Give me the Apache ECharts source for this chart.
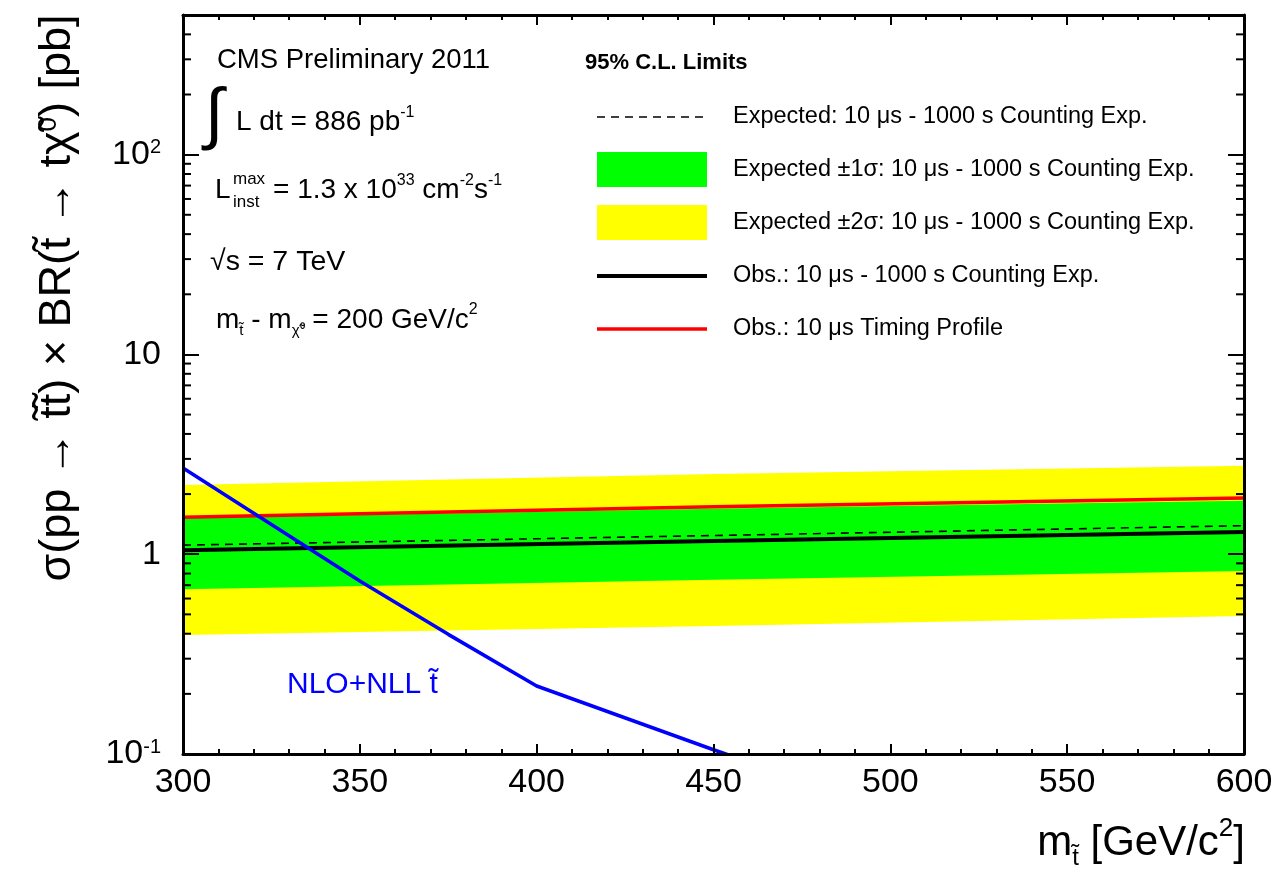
<!DOCTYPE html>
<html><head><meta charset="utf-8">
<script src="https://cdn.jsdelivr.net/npm/echarts@6/dist/echarts.min.js"></script>
<style>html,body{margin:0;padding:0;background:#fff}#c{width:1278px;height:872px}</style>
</head><body><div id="c"></div>
<script>
// ---- data ----
const massPoints   = [300, 450, 600];
const expected     = [1.11, 1.24, 1.39];
const exp1Lo       = [0.668, 0.745, 0.825];
const exp1Hi       = [1.515, 1.69, 1.85];
const exp2Lo       = [0.394, 0.437, 0.49];
const exp2Hi       = [2.22, 2.52, 2.77];
const obsCounting  = [1.047, 1.166, 1.29];
const obsTiming    = [1.53, 1.73, 1.91];
const nloMass      = [300, 325, 350, 375, 400, 450, 500];
const nloXsec      = [2.70, 1.41, 0.735, 0.397, 0.219, 0.105, 0.052];
const yTickValues  = [0.1, 1, 10, 100];
const yTickLabels  = ['10{sup|-1}', '1', '10', '10{sup|2}'];
const seriesNames  = [
  'Expected: 10 μs - 1000 s Counting Exp.',
  'Expected ±1σ: 10 μs - 1000 s Counting Exp.',
  'Expected ±2σ: 10 μs - 1000 s Counting Exp.',
  'Obs.: 10 μs - 1000 s Counting Exp.',
  'Obs.: 10 μs Timing Profile'
];

const FONT = '"Liberation Sans", Arial, Helvetica, sans-serif';
const X_MIN = 300, X_MAX = 600, Y_MIN = 0.1, Y_MAX = 500;

// log minor tick positions (2..9 per decade) — axis decoration
const yMinor = [];
for (let k = -1; k <= 2; k++) for (let d = 2; d <= 9; d++) {
  const v = d * Math.pow(10, k);
  if (v < Y_MAX) yMinor.push([X_MIN, v]);
}

function bandSeries(name, lo, hi, color, z) {
  return {
    name: name, type: 'custom', z: z, clip: true,
    itemStyle: { color: color },
    data: massPoints.map((m, i) => [m, lo[i], hi[i]]),
    encode: { x: 0, y: [1, 2] },
    renderItem: function (params, api) {
      if (params.dataIndex !== 0) return null;
      const pts = [];
      for (let i = 0; i < massPoints.length; i++) pts.push(api.coord([massPoints[i], hi[i]]));
      for (let i = massPoints.length - 1; i >= 0; i--) pts.push(api.coord([massPoints[i], lo[i]]));
      return { type: 'polygon', shape: { points: pts }, style: { fill: color, stroke: null } };
    }
  };
}

function yLabel(v) {
  const e = Math.round(Math.log10(v));
  if (Math.abs(Math.log10(v) - e) > 1e-6) return '';
  const idx = yTickValues.findIndex(t => Math.abs(Math.log10(t) - e) < 1e-6);
  return idx >= 0 ? yTickLabels[idx] : '';
}

const chart = echarts.init(document.getElementById('c'), null, { renderer: 'canvas' });
const axisLine = { show: true, lineStyle: { color: '#000', width: 3 } };

// legend drawn as graphic (rows)
const legendRows = [117, 169.5, 222.5, 276, 329];
const LX = 597, LW = 110, TX = 733;
const legendGraphics = [
  { type: 'text', x: 585, y: 63,
    style: { text: '95% C.L. Limits', fontFamily: FONT, fontSize: 22, fontWeight: 'bold', fill: '#000', verticalAlign: 'middle' } },
  { type: 'line', shape: { x1: LX, y1: legendRows[0], x2: LX + LW, y2: legendRows[0] },
    style: { stroke: '#000', lineWidth: 1.6, lineDash: [8, 6] } },
  { type: 'rect', shape: { x: LX, y: legendRows[1] - 17.5, width: LW, height: 35 }, style: { fill: '#00ff00' } },
  { type: 'rect', shape: { x: LX, y: legendRows[2] - 17.5, width: LW, height: 35 }, style: { fill: '#ffff00' } },
  { type: 'line', shape: { x1: LX, y1: legendRows[3], x2: LX + LW, y2: legendRows[3] },
    style: { stroke: '#000', lineWidth: 4 } },
  { type: 'line', shape: { x1: LX, y1: legendRows[4], x2: LX + LW, y2: legendRows[4] },
    style: { stroke: '#ff0000', lineWidth: 3.5 } }
].concat(seriesNames.map((n, i) => ({
  type: 'text', x: TX, y: legendRows[i],
  style: { text: n, fontFamily: FONT, fontSize: 23.5, fill: '#000', verticalAlign: 'middle' }
})));

const option = {
  backgroundColor: '#fff',
  animation: false,
  grid: { left: 183, right: 34, top: 15, bottom: 118, containLabel: false },
  xAxis: [{
    type: 'value', min: X_MIN, max: X_MAX, interval: 50, position: 'bottom', z: 10,
    axisLine: axisLine,
    axisTick: { show: true, inside: true, length: 10, lineStyle: { color: '#000', width: 2 } },
    minorTick: { show: true, splitNumber: 5, length: 5, lineStyle: { color: '#000', width: 2 } },
    splitLine: { show: false }, minorSplitLine: { show: false },
    axisLabel: { fontFamily: FONT, fontSize: 34, color: '#000', margin: 12, showMinLabel: true, showMaxLabel: true }
  }, {
    type: 'value', min: X_MIN, max: X_MAX, interval: 50, position: 'top', z: 10,
    axisLine: axisLine,
    axisTick: { show: true, inside: true, length: 10, lineStyle: { color: '#000', width: 2 } },
    minorTick: { show: true, splitNumber: 5, length: 5, lineStyle: { color: '#000', width: 2 } },
    splitLine: { show: false }, axisLabel: { show: false }
  }],
  yAxis: [{
    type: 'log', logBase: 10, min: Y_MIN, max: Y_MAX, position: 'left', z: 10,
    axisLine: axisLine,
    axisTick: { show: true, inside: true, length: 16, lineStyle: { color: '#000', width: 2 } },
    splitLine: { show: false },
    axisLabel: {
      fontFamily: FONT, fontSize: 34, color: '#000', margin: 22,
      formatter: yLabel,
      rich: { sup: { fontFamily: FONT, fontSize: 20, color: '#000', verticalAlign: 'top', lineHeight: 20 } }
    }
  }, {
    type: 'log', logBase: 10, min: Y_MIN, max: Y_MAX, position: 'right', z: 10,
    axisLine: axisLine,
    axisTick: { show: true, inside: true, length: 16, lineStyle: { color: '#000', width: 2 } },
    splitLine: { show: false }, axisLabel: { show: false }
  }],
  series: [
    bandSeries(seriesNames[2], exp2Lo, exp2Hi, '#ffff00', 1),
    bandSeries(seriesNames[1], exp1Lo, exp1Hi, '#00ff00', 2),
    {
      name: seriesNames[0], type: 'line', z: 3, symbol: 'none', clip: true,
      data: massPoints.map((m, i) => [m, expected[i]]),
      lineStyle: { color: '#000', width: 1.6, type: [8, 6] }, itemStyle: { color: '#000' }
    },
    {
      name: seriesNames[3], type: 'line', z: 4, symbol: 'none', clip: true,
      data: massPoints.map((m, i) => [m, obsCounting[i]]),
      lineStyle: { color: '#000', width: 4 }, itemStyle: { color: '#000' }
    },
    {
      name: seriesNames[4], type: 'line', z: 5, symbol: 'none', clip: true,
      data: massPoints.map((m, i) => [m, obsTiming[i]]),
      lineStyle: { color: '#ff0000', width: 3.5 }, itemStyle: { color: '#ff0000' }
    },
    {
      name: 'NLO+NLL', type: 'line', z: 6, symbol: 'none', clip: true,
      data: nloMass.map((m, i) => [m, nloXsec[i]]),
      lineStyle: { color: '#0000ff', width: 3.5 }, itemStyle: { color: '#0000ff' }
    },
    {
      name: 'yMinorTicks', type: 'custom', z: 20, silent: true, clip: false,
      data: yMinor, encode: { x: 0, y: 1 },
      renderItem: function (params, api) {
        const c = api.coord([X_MIN, api.value(1)]);
        const cs = params.coordSys;
        const st = { stroke: '#000', lineWidth: 2 };
        return { type: 'group', children: [
          { type: 'line', shape: { x1: cs.x, y1: c[1], x2: cs.x + 8, y2: c[1] }, style: st },
          { type: 'line', shape: { x1: cs.x + cs.width - 8, y1: c[1], x2: cs.x + cs.width, y2: c[1] }, style: st }
        ]};
      }
    }
  ],
  graphic: [
    { type: 'text', x: 58, y: 298, rotation: Math.PI / 2,
      style: { text: 'σ(pp → t̃t̃) × BR(t̃ → tχ̃{sup|0}) [pb]', fontFamily: FONT, fontSize: 45, fill: '#000',
        align: 'center', verticalAlign: 'middle',
        rich: { sup: { fontFamily: FONT, fontSize: 26, verticalAlign: 'top', lineHeight: 26 } } } },
    { type: 'text', x: 1245, y: 843,
      style: { text: 'm{sub|t̃} [GeV/c{sup|2}]', fontFamily: FONT, fontSize: 42, fill: '#000',
        align: 'right', verticalAlign: 'middle', lineHeight: 54,
        rich: { sup: { fontFamily: FONT, fontSize: 26, verticalAlign: 'top', lineHeight: 26 },
                sub: { fontFamily: FONT, fontSize: 24, verticalAlign: 'bottom', lineHeight: 24 } } } },
    { type: 'text', x: 217, y: 60,
      style: { text: 'CMS Preliminary 2011', fontFamily: FONT, fontSize: 27.5, fill: '#000', verticalAlign: 'middle' } },
    { type: 'text', x: 205, y: 117,
      style: { text: '∫', fontFamily: FONT, fontSize: 68, fill: '#000', verticalAlign: 'middle' } },
    { type: 'text', x: 236, y: 122,
      style: { text: 'L dt = 886 pb{sup|-1}', fontFamily: FONT, fontSize: 28, fill: '#000', verticalAlign: 'middle', lineHeight: 34,
        rich: { sup: { fontFamily: FONT, fontSize: 16, verticalAlign: 'top', lineHeight: 16 } } } },
    { type: 'text', x: 215, y: 190,
      style: { text: 'L', fontFamily: FONT, fontSize: 28, fill: '#000', verticalAlign: 'middle' } },
    { type: 'text', x: 233, y: 179,
      style: { text: 'max', fontFamily: FONT, fontSize: 17, fill: '#000', verticalAlign: 'middle' } },
    { type: 'text', x: 233, y: 202,
      style: { text: 'inst', fontFamily: FONT, fontSize: 17, fill: '#000', verticalAlign: 'middle' } },
    { type: 'text', x: 273, y: 190,
      style: { text: '= 1.3 x 10{sup|33} cm{sup|-2}s{sup|-1}', fontFamily: FONT, fontSize: 28, fill: '#000', verticalAlign: 'middle', lineHeight: 34,
        rich: { sup: { fontFamily: FONT, fontSize: 16, verticalAlign: 'top', lineHeight: 16 } } } },
    { type: 'text', x: 210, y: 262,
      style: { text: '√s = 7 TeV', fontFamily: FONT, fontSize: 28.5, fill: '#000', verticalAlign: 'middle' } },
    { type: 'text', x: 216, y: 320,
      style: { text: 'm{sub|t̃} - m{sub|χ̃⁰} = 200 GeV/c{sup|2}', fontFamily: FONT, fontSize: 28, fill: '#000', verticalAlign: 'middle', lineHeight: 36,
        rich: { sup: { fontFamily: FONT, fontSize: 16, verticalAlign: 'top', lineHeight: 16 },
                sub: { fontFamily: FONT, fontSize: 15, verticalAlign: 'bottom', lineHeight: 15 } } } },
    { type: 'text', x: 287, y: 685,
      style: { text: 'NLO+NLL t̃', fontFamily: FONT, fontSize: 30, fill: '#0000ff', verticalAlign: 'middle' } }
  ].concat(legendGraphics)
};
chart.setOption(option);
</script></body></html>
